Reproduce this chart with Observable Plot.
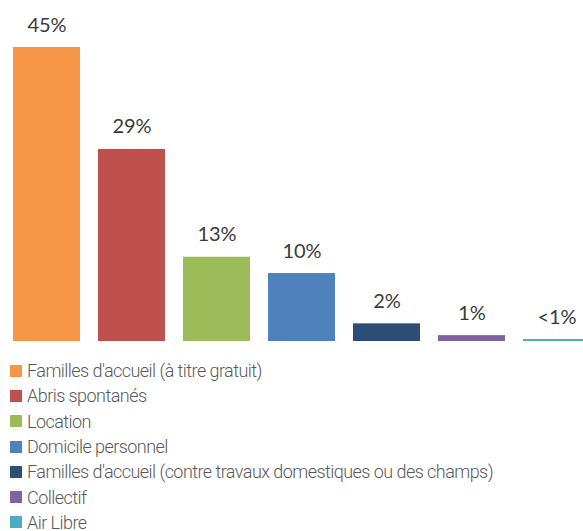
<!DOCTYPE html>
<html>
<head>
<meta charset="utf-8">
<script src="https://cdn.jsdelivr.net/npm/d3@7"></script>
<script src="https://cdn.jsdelivr.net/npm/@observablehq/plot@0.6"></script>
<style>
  html, body { margin: 0; padding: 0; background: #fff; overflow: hidden; }
  #chart svg { display: block; }
  #legend { margin-top: 8px; padding-left: 10px; font-family: "Roboto", sans-serif; font-weight: 300; font-size: 18px; letter-spacing: -0.55px; color: #595959; }
  .row { display: flex; align-items: center; height: 25.3px; white-space: nowrap; }
  .sw { width: 12px; height: 12px; margin-right: 5px; flex: none; }
</style>
</head>
<body>
<div id="chart"></div>
<div id="legend"></div>
<script>
const categories = [
  "Familles d'accueil (à titre gratuit)",
  "Abris spontanés",
  "Location",
  "Domicile personnel",
  "Familles d'accueil (contre travaux domestiques ou des champs)",
  "Collectif",
  "Air Libre"
];
const values = [45, 29.4, 12.9, 10.4, 2.7, 0.9, 0.3];
const labels = ["45%", "29%", "13%", "10%", "2%", "1%", "<1%"];
const colors = ["#F79646", "#C0504D", "#9BBB59", "#4F81BD", "#2C4D75", "#8064A2", "#4BACC6"];

const data = categories.map((c, i) => ({cat: c, value: values[i], label: labels[i]}));

const chart = Plot.plot({
  width: 583,
  height: 350,
  marginLeft: 11,
  marginRight: 0,
  marginTop: 47,
  marginBottom: 9,
  x: {domain: categories, range: [11, 593], paddingInner: 0.207, paddingOuter: 0, axis: null},
  y: {domain: [0, 45], axis: null},
  color: {domain: categories, range: colors},
  marks: [
    Plot.barY(data, {x: "cat", y: "value", fill: "cat"}),
    Plot.text(data, {x: "cat", y: "value", text: "label", dy: -16, lineAnchor: "bottom",
      fontSize: 20, fontWeight: 400, fontFamily: "Lato, sans-serif", fill: "#3a3a3a"})
  ]
});
chart.style.overflow = "hidden";
document.getElementById("chart").appendChild(chart);

const legend = document.getElementById("legend");
categories.forEach((c, i) => {
  const row = document.createElement("div");
  row.className = "row";
  const sw = document.createElement("span");
  sw.className = "sw";
  sw.style.background = colors[i];
  const t = document.createElement("span");
  t.textContent = c;
  row.appendChild(sw);
  row.appendChild(t);
  legend.appendChild(row);
});
</script>
</body>
</html>
